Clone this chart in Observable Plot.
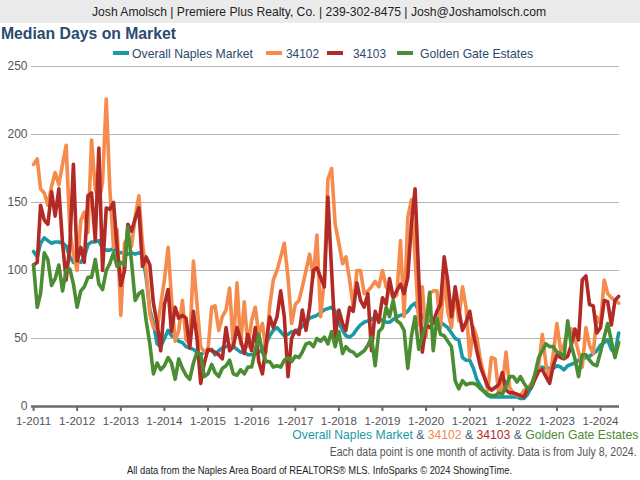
<!DOCTYPE html>
<html><head><meta charset="utf-8">
<script src="https://cdn.jsdelivr.net/npm/d3@7"></script>
<script src="https://cdn.jsdelivr.net/npm/@observablehq/plot@0.6"></script>
<style>
body{margin:0;width:640px;height:480px;position:relative;overflow:hidden;background:#fff;font-family:"Liberation Sans",Arial,Helvetica,sans-serif;}
.abs{position:absolute;white-space:nowrap;line-height:1;}
#hdr{left:0;top:0;width:640px;height:23px;background:#ebebeb;}
#chart{position:absolute;left:0;top:60px;}
.sw{position:absolute;height:4px;width:16px;}
</style></head>
<body>
<div id="hdr" class="abs"></div>
<div id="hdrText" class="abs" style="left:92px;top:5px;font-size:13.5px;color:#222;">Josh Amolsch | Premiere Plus Realty, Co. | 239-302-8475 | Josh@Joshamolsch.com</div>
<div id="title" class="abs" style="left:1px;top:26px;font-size:16px;font-weight:bold;color:#2b4a6f;">Median Days on Market</div>
<div id="legend"></div>
<div id="chart"></div>
<div id="cap1" class="abs" style="right:2px;top:428px;font-size:13px;"></div>
<div id="cap2" class="abs" style="right:3px;top:446px;font-size:12px;color:#555;">Each data point is one month of activity. Data is from July 8, 2024.</div>
<div id="foot" class="abs" style="left:127px;top:465px;font-size:10.5px;color:#222;">All data from the Naples Area Board of REALTORS® MLS. InfoSparks © 2024 ShowingTime.</div>
<script>
// ---- data: monthly median days on market, Jan 2011 .. Jun 2024 ----
const seriesNames = ["Overall Naples Market", "34102", "34103", "Golden Gate Estates"];
const seriesColors = ["#1b9aa5", "#f58b4c", "#b22a26", "#4b8d33"];
const tickYears = [2011,2012,2013,2014,2015,2016,2017,2018,2019,2020,2021,2022,2023,2024];
const yTicks = [0, 50, 100, 150, 200, 250];

const overallNaples = [
 114,110,120,124,122,120,121,121,120,118,110,106,
 107,106,110,119,121,121,122,116,115,115,116,114,
 113,113,112,113,112,113,112,95,71,61,46,44,
 50,56,52,51,48,47,44,43,42,40,38,40,
 41,42,38,41,43,44,45,44,42,40,40,38,
 38,39,40,42,46,52,56,58,55,52,53,55,
 55,57,59,62,65,66,67,69,71,72,73,70,
 62,56,52,51,53,57,60,62,63,64,66,65,
 63,62,62,64,66,67,68,70,74,76,70,66,
 64,63,62,61,62,60,58,54,50,49,36,34,
 34,28,20,15,11,8,7,7,7,7,7,7,
 7,7,6,6,9,14,22,27,29,28,28,28,
 30,29,27,30,31,32,34,35,36,37,39,41,
 45,47,49,42,39,54];
const zip34102 = [
 178,182,160,157,148,162,172,163,178,192,130,112,
 100,137,143,128,196,160,150,165,226,160,117,130,
 67,120,125,118,139,155,120,100,68,58,56,75,
 93,117,80,48,56,78,49,46,107,75,44,40,
 42,73,74,56,66,71,87,44,91,46,77,44,
 63,73,53,61,40,74,93,100,110,120,95,61,
 75,78,88,100,112,95,126,66,93,167,175,134,
 120,105,110,93,73,100,100,83,85,88,92,88,
 100,88,85,80,82,122,66,139,152,110,60,88,
 51,83,85,85,58,95,70,58,85,63,88,73,
 36,58,51,34,23,12,36,35,9,15,40,14,
 10,8,8,12,13,17,22,30,53,31,19,39,
 61,41,45,56,57,50,40,29,58,45,39,66,
 61,93,83,80,78,76];
const zip34103 = [
 104,106,148,137,134,158,140,160,120,93,118,178,
 107,117,106,155,157,122,190,100,146,145,150,117,
 89,100,134,129,138,146,103,110,104,76,61,41,
 75,86,55,73,65,67,65,43,70,50,17,32,
 42,41,40,38,35,58,41,44,58,49,39,53,
 41,58,33,24,45,66,58,66,85,66,22,50,
 56,53,71,56,73,100,102,95,88,154,100,51,
 71,61,56,73,70,91,78,73,83,41,70,62,
 80,75,94,80,85,90,83,95,135,160,95,40,
 60,58,62,70,75,110,92,66,88,71,56,62,
 70,53,41,29,22,15,12,14,16,25,12,10,
 10,9,8,7,13,14,20,26,27,22,17,30,
 38,36,35,37,45,57,49,93,96,75,74,54,
 58,78,77,60,78,81];
const goldenGate = [
 104,73,83,113,108,89,94,104,85,100,101,90,
 73,85,88,95,95,108,90,86,100,105,113,103,
 106,104,132,106,78,83,85,63,46,24,32,27,
 30,36,32,20,35,28,23,20,32,40,38,22,
 24,31,25,22,28,30,34,24,23,27,24,29,
 29,41,53,40,33,33,29,30,29,34,36,33,
 37,36,40,46,47,44,50,48,51,46,55,44,
 55,39,44,41,40,37,39,41,45,51,30,55,
 58,73,66,78,63,61,56,28,52,66,42,52,
 60,84,41,65,53,52,48,44,19,13,19,16,
 17,17,16,13,11,9,8,8,10,9,15,22,
 22,18,22,17,13,15,24,36,41,46,44,44,
 40,39,36,63,45,35,22,38,38,34,31,30,
 40,51,61,48,36,47];

const seriesValues = [overallNaples, zip34102, zip34103, goldenGate];
const months = d3.range(overallNaples.length).map(i => new Date(Date.UTC(2011, i, 1)));
const rows = seriesNames.flatMap((name, k) =>
  seriesValues[k].map((v, i) => ({date: months[i], value: v, series: name})));
const yearDates = tickYears.map(y => new Date(Date.UTC(y, 0, 1)));

const chart = Plot.plot({
  width: 640, height: 374,
  marginTop: 6, marginBottom: 28, marginLeft: 31, marginRight: 21,
  style: {fontFamily: '"Liberation Sans", Arial, sans-serif', fontSize: "12px", color: "#555", background: "transparent"},
  x: {type: "utc", domain: [new Date(Date.UTC(2010, 11, 15)), new Date(Date.UTC(2024, 5, 8))]},
  y: {domain: [0, 250]},
  marks: [
    Plot.gridY(yTicks.filter(d => d > 0), {stroke: "#b4b4b4", strokeOpacity: 1, strokeWidth: 1}),
    ...seriesNames.map((name, k) => Plot.line(rows.filter(d => d.series === name), {
      x: "date", y: "value", stroke: seriesColors[k], strokeWidth: 3.6,
      strokeLinejoin: "round", strokeLinecap: "round"})),
    Plot.ruleY([0], {stroke: "#6b6b6b", strokeWidth: 2.6}),
    Plot.axisX(yearDates, {ticks: yearDates, tickFormat: d => "1-" + d.getUTCFullYear(), tickSize: 5, tickPadding: 5,
      stroke: "#6b6b6b", strokeWidth: 2, fill: "#555", fontSize: 11.6, label: null}),
    Plot.axisY(yTicks, {ticks: yTicks, tickSize: 0, tickPadding: 4, fill: "#555", fontSize: 12, label: null})
  ]
});
document.getElementById("chart").appendChild(chart);

// legend
const legend = document.getElementById("legend");
const legendPos = [[113, 132, 121], [266, 286, 33], [327, 353, 33], [397, 420, 113]];
seriesNames.forEach((name, k) => {
  const sw = document.createElement("div");
  sw.className = "sw abs";
  sw.style.left = legendPos[k][0] + "px"; sw.style.top = "51px"; sw.style.background = seriesColors[k];
  legend.appendChild(sw);
  const t = document.createElement("div");
  t.className = "abs"; t.textContent = name;
  t.style.left = legendPos[k][1] + "px"; t.style.top = "46.5px"; t.style.fontSize = "13px"; t.style.color = "#2d4a6b";
  t.dataset.w = legendPos[k][2];
  legend.appendChild(t);
});

// caption with colored series names
const cap1 = document.getElementById("cap1");
seriesNames.forEach((name, k) => {
  const s = document.createElement("span");
  s.textContent = name; s.style.color = seriesColors[k];
  cap1.appendChild(s);
  if (k < seriesNames.length - 1) {
    const a = document.createElement("span");
    a.textContent = " & "; a.style.color = "#4a5f82";
    cap1.appendChild(a);
  }
});

function fit(el, w, origin) {
  const r = el.getBoundingClientRect().width;
  if (r > 0) { el.style.transform = `scaleX(${w / r})`; el.style.transformOrigin = origin; }
}
fit(document.getElementById("hdrText"), 454, "left");
fit(document.getElementById("title"), 175, "left");
legend.querySelectorAll("div[data-w]").forEach(el => fit(el, +el.dataset.w, "left"));
fit(cap1, 346, "right");
fit(document.getElementById("cap2"), 307, "right");
fit(document.getElementById("foot"), 385, "left");
</script>
</body></html>
